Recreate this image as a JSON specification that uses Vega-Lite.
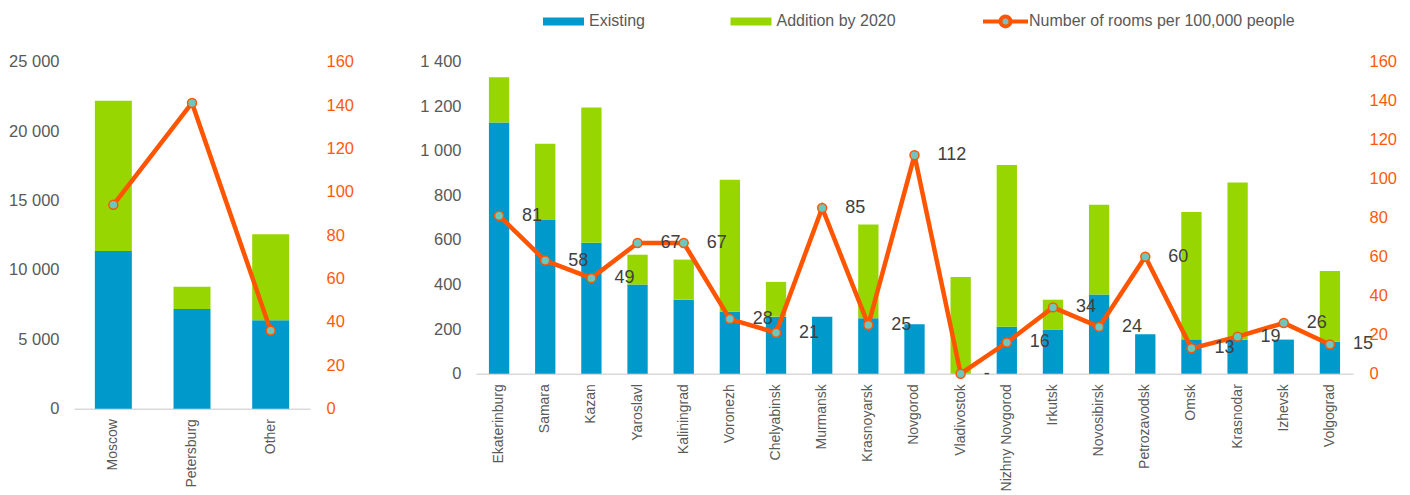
{
  "$schema": "https://vega.github.io/schema/vega-lite/v6.json",
  "padding": {"left": 8, "top": 10.7, "right": 5, "bottom": 0},
  "config": {
    "font": "Liberation Sans",
    "view": {"stroke": null},
    "locale": {"number": {"decimal": ".", "thousands": " ", "grouping": [3], "currency": ["", ""]}},
    "axis": {"grid": false, "ticks": false, "tickSize": 0, "labelFont": "Liberation Sans", "labelColor": "#595959", "labelFontSize": 16.5, "title": null}
  },
  "datasets": {
    "regions": [
      {"city": "Moscow", "Existing": 11370, "Addition by 2020": 10820, "rooms": 94},
      {"city": "Petersburg", "Existing": 7190, "Addition by 2020": 1590, "rooms": 141},
      {"city": "Other", "Existing": 6370, "Addition by 2020": 6200, "rooms": 36}
    ],
    "cities": [
      {"city": "Ekaterinburg", "Existing": 1127, "Addition by 2020": 203, "rooms": 81, "label": "81"},
      {"city": "Samara", "Existing": 690, "Addition by 2020": 342, "rooms": 58, "label": "58"},
      {"city": "Kazan", "Existing": 588, "Addition by 2020": 607, "rooms": 49, "label": "49"},
      {"city": "Yaroslavl", "Existing": 400, "Addition by 2020": 134, "rooms": 67, "label": "67"},
      {"city": "Kaliningrad", "Existing": 332, "Addition by 2020": 180, "rooms": 67, "label": "67"},
      {"city": "Voronezh", "Existing": 278, "Addition by 2020": 592, "rooms": 28, "label": "28"},
      {"city": "Chelyabinsk", "Existing": 256, "Addition by 2020": 156, "rooms": 21, "label": "21"},
      {"city": "Murmansk", "Existing": 255, "Addition by 2020": 0, "rooms": 85, "label": "85"},
      {"city": "Krasnoyarsk", "Existing": 249, "Addition by 2020": 420, "rooms": 25, "label": "25"},
      {"city": "Novgorod", "Existing": 222, "Addition by 2020": 0, "rooms": 112, "label": "112"},
      {"city": "Vladivostok", "Existing": 0, "Addition by 2020": 434, "rooms": 0, "label": "-"},
      {"city": "Nizhny Novgorod", "Existing": 211, "Addition by 2020": 726, "rooms": 16, "label": "16"},
      {"city": "Irkutsk", "Existing": 198, "Addition by 2020": 134, "rooms": 34, "label": "34"},
      {"city": "Novosibirsk", "Existing": 355, "Addition by 2020": 403, "rooms": 24, "label": "24"},
      {"city": "Petrozavodsk", "Existing": 177, "Addition by 2020": 0, "rooms": 60, "label": "60"},
      {"city": "Omsk", "Existing": 154, "Addition by 2020": 571, "rooms": 13, "label": "13"},
      {"city": "Krasnodar", "Existing": 153, "Addition by 2020": 705, "rooms": 19, "label": "19"},
      {"city": "Izhevsk", "Existing": 153, "Addition by 2020": 0, "rooms": 26, "label": "26"},
      {"city": "Volgograd", "Existing": 144, "Addition by 2020": 317, "rooms": 15, "label": "15"}
    ]
  },
  "spacing": 65,
  "hconcat": [
    {
      "width": 236,
      "height": 347,
      "data": {"name": "regions"},
      "layer": [
        {
          "transform": [{"fold": ["Existing", "Addition by 2020"], "as": ["series", "value"]}],
          "mark": {"type": "bar"},
          "encoding": {
            "x": {"field": "city", "type": "nominal", "sort": null,
              "scale": {"paddingInner": 0.53, "paddingOuter": 0.265},
              "axis": {"labelAngle": -90, "labelFontSize": 14, "labelPadding": 10, "domainColor": "#D9D9D9", "domainWidth": 1.5}},
            "y": {"field": "value", "type": "quantitative", "stack": "zero",
              "scale": {"domain": [0, 25000]},
              "axis": {"values": [0, 5000, 10000, 15000, 20000, 25000], "format": ",d", "domain": false, "labelPadding": 15}},
            "color": {"field": "series", "type": "nominal",
              "scale": {"domain": ["Existing", "Addition by 2020"], "range": ["#0099CC", "#97D600"]},
              "legend": {"title": null, "orient": "none", "legendX": 481.5, "legendY": -48.3, "direction": "horizontal",
                "symbolType": "M-2.5625,-0.5H2.5625V0.5H-2.5625Z", "symbolSize": 256, "symbolStrokeWidth": 0,
                "labelFontSize": 16, "labelColor": "#595959", "labelFont": "Liberation Sans", "labelOffset": 17.5, "columnPadding": 84.5, "labelLimit": 0}},
            "order": {"field": "series", "sort": "descending"}
          }
        },
        {
          "mark": {"type": "line", "strokeWidth": 4.5},
          "encoding": {
            "x": {"field": "city", "type": "nominal", "sort": null},
            "y": {"field": "rooms", "type": "quantitative", "scale": {"domain": [0, 160]},
              "axis": {"orient": "right", "values": [0, 20, 40, 60, 80, 100, 120, 140, 160], "domain": false, "labelPadding": 16, "labelColor": "#FF5A0A"}},
            "stroke": {"datum": "Number of rooms per 100,000 people", "type": "nominal",
              "scale": {"range": ["#FF5500"]},
              "legend": {"title": null, "orient": "none", "legendX": 921.5, "legendY": -50.3,
                "symbolType": "M-2.8125,0H-0.625M0.625,0H2.8125M0.625,0A0.625,0.625,0,1,1,-0.625,0A0.625,0.625,0,1,1,0.625,0Z",
                "symbolSize": 256, "symbolStrokeWidth": 4, "symbolFillColor": "#6CC8BC", "symbolOpacity": 1,
                "labelFontSize": 16, "labelColor": "#595959", "labelFont": "Liberation Sans", "labelOffset": 13.5, "labelLimit": 0}}
          }
        },
        {
          "mark": {"type": "point", "filled": true, "fill": "#6CC8BC", "stroke": "#FF5500", "strokeWidth": 1.5, "size": 80, "opacity": 1},
          "encoding": {
            "x": {"field": "city", "type": "nominal", "sort": null},
            "y": {"field": "rooms", "type": "quantitative", "scale": {"domain": [0, 160]}, "axis": null}
          }
        }
      ],
      "resolve": {"scale": {"y": "independent"}}
    },
    {
      "width": 877,
      "height": 312,
      "data": {"name": "cities"},
      "layer": [
        {
          "transform": [{"fold": ["Existing", "Addition by 2020"], "as": ["series", "value"]}],
          "mark": {"type": "bar"},
          "encoding": {
            "x": {"field": "city", "type": "nominal", "sort": null,
              "scale": {"paddingInner": 0.56, "paddingOuter": 0.28},
              "axis": {"labelAngle": -90, "labelFontSize": 14, "labelPadding": 10, "domainColor": "#D9D9D9", "domainWidth": 1.5}},
            "y": {"field": "value", "type": "quantitative", "stack": "zero",
              "scale": {"domain": [0, 1400]},
              "axis": {"values": [0, 200, 400, 600, 800, 1000, 1200, 1400], "format": ",d", "domain": false, "labelPadding": 15}},
            "color": {"field": "series", "type": "nominal",
              "scale": {"domain": ["Existing", "Addition by 2020"], "range": ["#0099CC", "#97D600"]},
              "legend": {"title": null, "orient": "none", "legendX": 481.5, "legendY": -48.3, "direction": "horizontal",
                "symbolType": "M-2.5625,-0.5H2.5625V0.5H-2.5625Z", "symbolSize": 256, "symbolStrokeWidth": 0,
                "labelFontSize": 16, "labelColor": "#595959", "labelFont": "Liberation Sans", "labelOffset": 17.5, "columnPadding": 84.5, "labelLimit": 0}},
            "order": {"field": "series", "sort": "descending"}
          }
        },
        {
          "mark": {"type": "line", "strokeWidth": 4.5},
          "encoding": {
            "x": {"field": "city", "type": "nominal", "sort": null},
            "y": {"field": "rooms", "type": "quantitative", "scale": {"domain": [0, 160]},
              "axis": {"orient": "right", "values": [0, 20, 40, 60, 80, 100, 120, 140, 160], "domain": false, "labelPadding": 16, "labelColor": "#FF5A0A"}},
            "stroke": {"datum": "Number of rooms per 100,000 people", "type": "nominal",
              "scale": {"range": ["#FF5500"]},
              "legend": {"title": null, "orient": "none", "legendX": 921.5, "legendY": -50.3,
                "symbolType": "M-2.8125,0H-0.625M0.625,0H2.8125M0.625,0A0.625,0.625,0,1,1,-0.625,0A0.625,0.625,0,1,1,0.625,0Z",
                "symbolSize": 256, "symbolStrokeWidth": 4, "symbolFillColor": "#6CC8BC", "symbolOpacity": 1,
                "labelFontSize": 16, "labelColor": "#595959", "labelFont": "Liberation Sans", "labelOffset": 13.5, "labelLimit": 0}}
          }
        },
        {
          "mark": {"type": "point", "filled": true, "fill": "#6CC8BC", "stroke": "#FF5500", "strokeWidth": 1.5, "size": 80, "opacity": 1},
          "encoding": {
            "x": {"field": "city", "type": "nominal", "sort": null},
            "y": {"field": "rooms", "type": "quantitative", "scale": {"domain": [0, 160]}, "axis": null}
          }
        },
        {
          "mark": {"type": "text", "align": "left", "baseline": "middle", "dx": 23, "fontSize": 18, "color": "#404040", "font": "Liberation Sans"},
          "encoding": {
            "x": {"field": "city", "type": "nominal", "sort": null},
            "y": {"field": "rooms", "type": "quantitative", "scale": {"domain": [0, 160]}, "axis": null},
            "text": {"field": "label"}
          }
        }
      ],
      "resolve": {"scale": {"y": "independent"}}
    }
  ]
}
